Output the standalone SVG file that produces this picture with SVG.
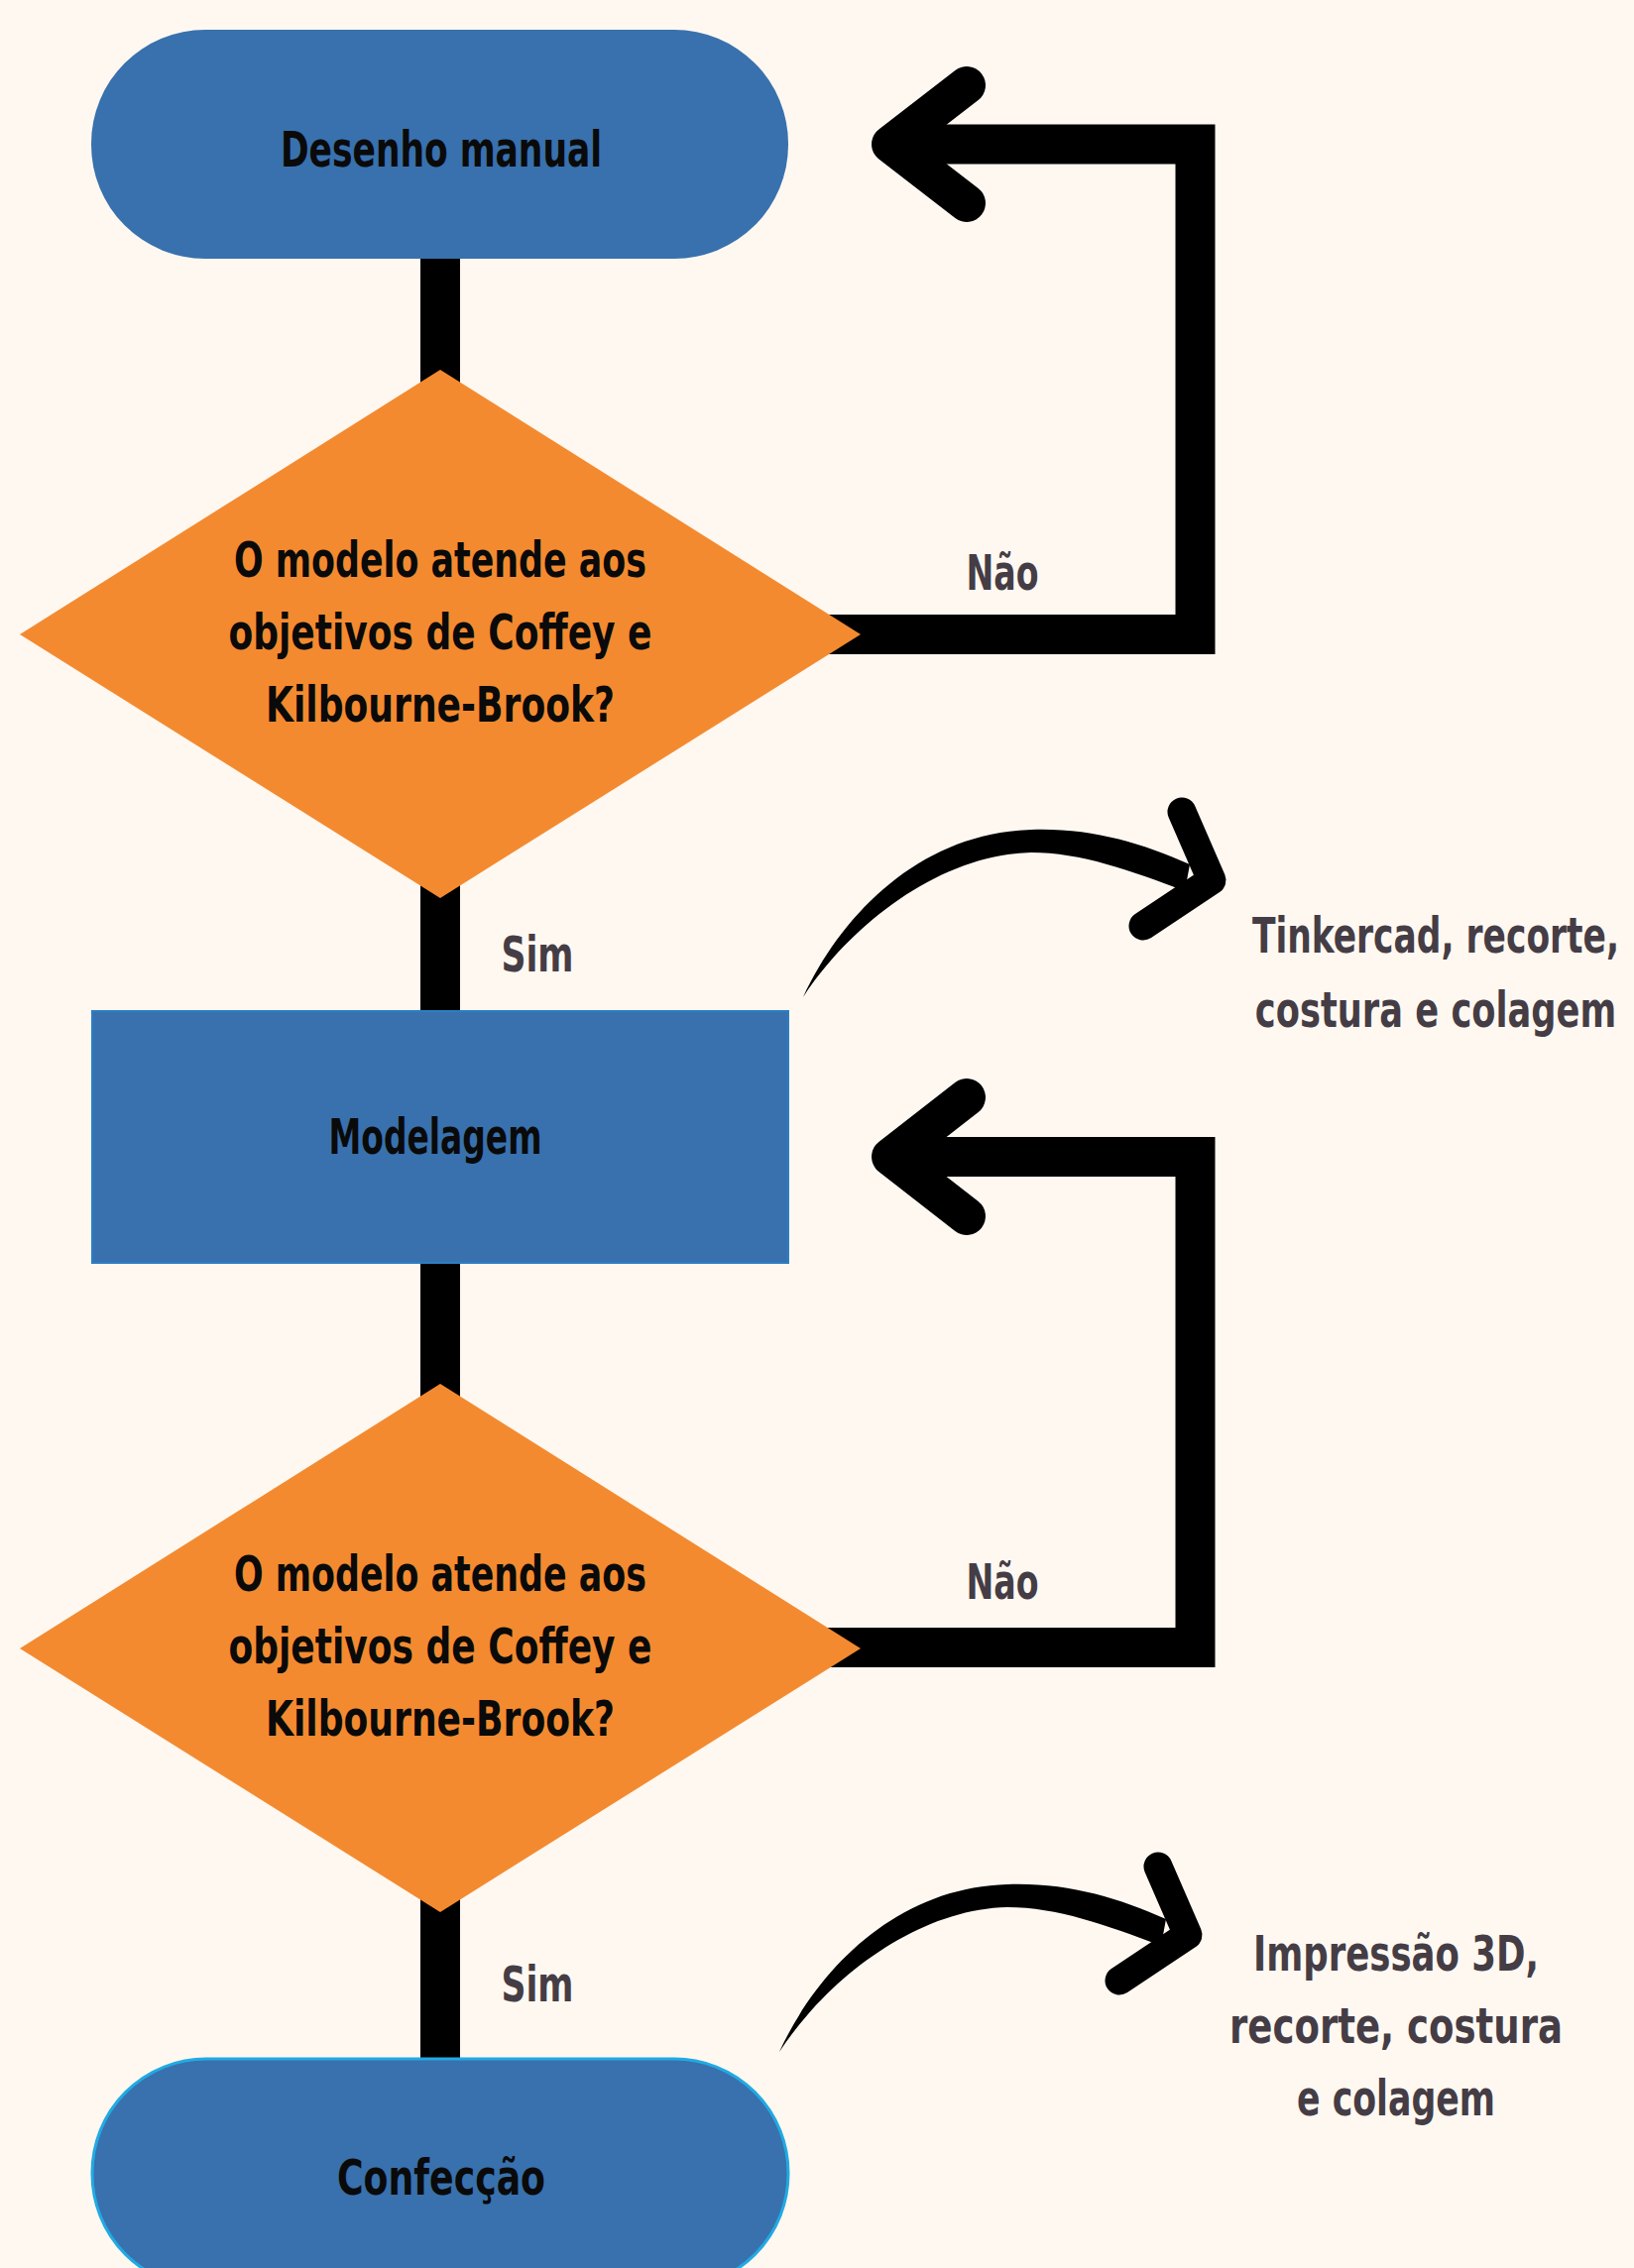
<svg xmlns="http://www.w3.org/2000/svg" width="1648" height="2288" viewBox="0 0 1648 2288">
<defs>
<style>
.bg{fill:#FEF8F1}
.blue{fill:#3871AE}
.orange{fill:#F48A30}
.wire{fill:none;stroke:#000;stroke-width:40;stroke-linejoin:miter}
.head{fill:none;stroke:#000;stroke-width:38;stroke-linecap:round;stroke-linejoin:round}
.chev{fill:none;stroke:#000;stroke-width:29;stroke-linecap:round;stroke-linejoin:round}
.t{font-family:"DejaVu Sans Condensed","DejaVu Sans",sans-serif;font-weight:bold;text-anchor:middle}
.nt{fill:#0A0A0A;font-size:50px}
.lb{fill:#453D45;font-size:49px}
</style>
<g id="curvedArrow">
<path d="M 810 1006 C 850 920, 930 840, 1040 837 C 1100 835, 1150 850, 1200 872 L 1195 899 C 1140 878, 1090 860, 1040 860 C 950 862, 860 930, 810 1006 Z" fill="#000"/>
<polyline class="chev" points="1192,819 1222,888 1153,934"/>
</g>
</defs>
<rect class="bg" x="0" y="0" width="1648" height="2288"/>

<g id="connectors">
<line class="wire" x1="444" y1="252" x2="444" y2="400"/>
<line class="wire" x1="444" y1="880" x2="444" y2="1030"/>
<line class="wire" x1="444" y1="1265" x2="444" y2="1420"/>
<line class="wire" x1="444" y1="1900" x2="444" y2="2085"/>
<path class="wire" d="M 830 640 H 1205.5 V 145.5 H 905"/>
<polyline class="head" points="975,86 898,145.5 975,205"/>
<path class="wire" d="M 830 1662 H 1205.5 V 1167 H 905"/>
<polyline class="head" points="975,1107 898,1167 975,1227"/>
<use href="#curvedArrow"/>
<use href="#curvedArrow" transform="translate(-24,1064)"/>
</g>

<g id="node-desenho">
<rect class="blue" x="92" y="30" width="703" height="231" rx="115" ry="115"/>
<text class="t nt" x="445" y="168" font-size="53" textLength="324" lengthAdjust="spacingAndGlyphs">Desenho manual</text>
</g>

<g id="node-decisao1">
<polygon class="orange" points="444,373 868,640 444,906 20,640"/>
<text class="t nt" x="444" y="582" textLength="416" lengthAdjust="spacingAndGlyphs">O modelo atende aos</text>
<text class="t nt" x="444" y="655" textLength="427" lengthAdjust="spacingAndGlyphs">objetivos de Coffey e</text>
<text class="t nt" x="444" y="728" textLength="352" lengthAdjust="spacingAndGlyphs">Kilbourne-Brook?</text>
</g>

<g id="node-modelagem">
<rect class="blue" x="93" y="1020" width="702" height="254" stroke="#2C7EC2" stroke-width="2"/>
<text class="t nt" x="439" y="1164" font-size="52" textLength="215" lengthAdjust="spacingAndGlyphs">Modelagem</text>
</g>

<g id="node-decisao2">
<polygon class="orange" points="444,1396 868,1663 444,1929 20,1663"/>
<text class="t nt" x="444" y="1605" textLength="416" lengthAdjust="spacingAndGlyphs">O modelo atende aos</text>
<text class="t nt" x="444" y="1678" textLength="427" lengthAdjust="spacingAndGlyphs">objetivos de Coffey e</text>
<text class="t nt" x="444" y="1751" textLength="352" lengthAdjust="spacingAndGlyphs">Kilbourne-Brook?</text>
</g>

<g id="node-confeccao">
<rect class="blue" x="93" y="2077" width="702" height="231" rx="115" ry="115" stroke="#22AAE2" stroke-width="3"/>
<text class="t nt" x="445" y="2214" textLength="210" lengthAdjust="spacingAndGlyphs">Confecção</text>
</g>

<g id="labels">
<text class="t lb" x="542" y="980" textLength="73" lengthAdjust="spacingAndGlyphs">Sim</text>
<text class="t lb" x="542" y="2019" textLength="73" lengthAdjust="spacingAndGlyphs">Sim</text>
<text class="t lb" x="1011" y="595" textLength="73" lengthAdjust="spacingAndGlyphs">Não</text>
<text class="t lb" x="1011" y="1613" textLength="73" lengthAdjust="spacingAndGlyphs">Não</text>
</g>

<g id="note-tinkercad">
<text class="t lb" transform="translate(1448,961) scale(0.72,1)" x="0" y="0" textLength="514" lengthAdjust="spacingAndGlyphs">Tinkercad, recorte,</text>
<text class="t lb" transform="translate(1448,1036) scale(0.72,1)" x="0" y="0" textLength="506" lengthAdjust="spacingAndGlyphs">costura e colagem</text>
</g>

<g id="note-impressao">
<text class="t lb" x="1408" y="1988" textLength="288" lengthAdjust="spacingAndGlyphs">Impressão 3D,</text>
<text class="t lb" x="1408" y="2061" textLength="336" lengthAdjust="spacingAndGlyphs">recorte, costura</text>
<text class="t lb" x="1408" y="2134" textLength="200" lengthAdjust="spacingAndGlyphs">e colagem</text>
</g>
</svg>
